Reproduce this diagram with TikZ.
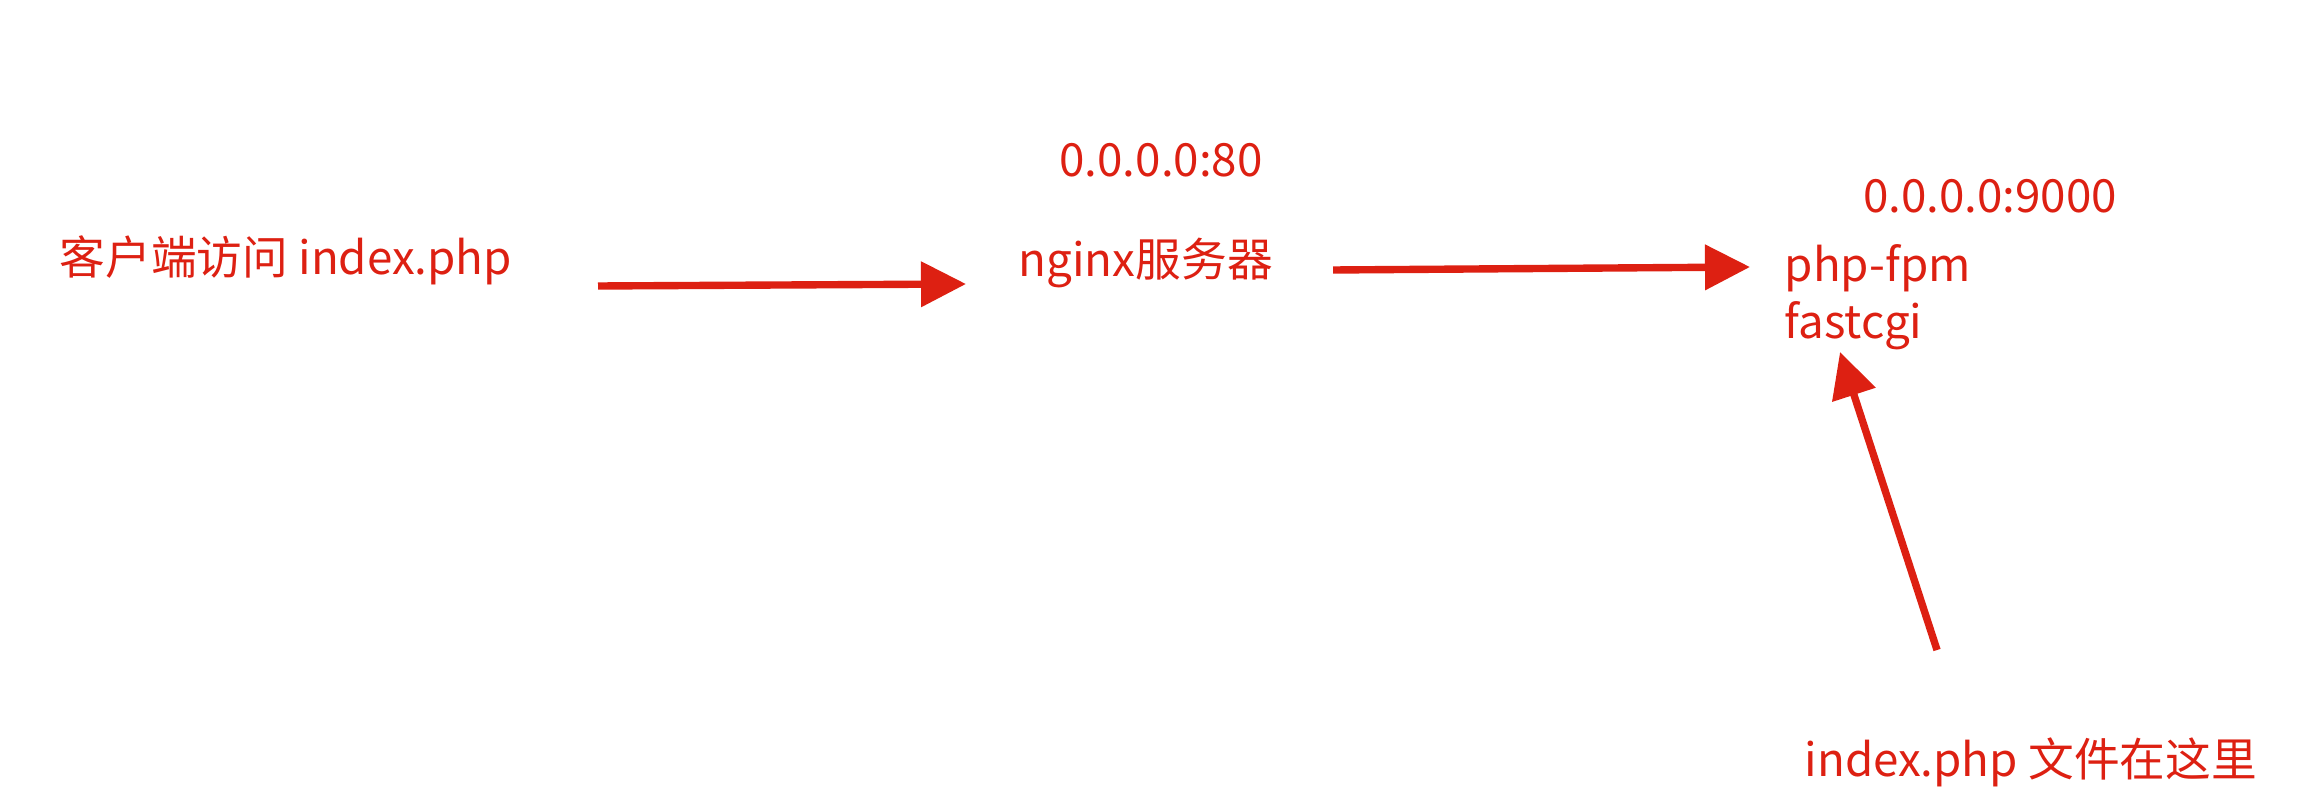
\documentclass[tikz,border=0pt]{standalone}
\usepackage{fontspec}
\setmainfont{Noto Sans CJK SC}
\usepackage{xcolor}
\usetikzlibrary{arrows.meta, positioning}
\definecolor{flowred}{RGB}{221,32,18}

\begin{document}
\begin{tikzpicture}[x=0.01cm, y=-0.01cm,
            label/.style={text=flowred, font=\fontsize{13}{17}\selectfont, inner sep=0pt},
            flow/.style={draw=flowred, line width=2.1pt, -{Triangle[length=0.45cm, width=0.44cm]}}
        ]
        \useasboundingbox (0,0) rectangle (2304,810);

        % Texts (manual layout to match figure)
        \node[label, anchor=west] (client) at (59,260) {客户端访问 index.php};
        \node[label] (port80) at (1161,160) {0.0.0.0:80};
        \node[label, anchor=west] (nginx) at (1018,263) {nginx服务器};
        \node[label] (port9000) at (1990,196) {0.0.0.0:9000};
        \node[label, anchor=west] (fpm) at (1784,268) {php-fpm};
        \node[label, anchor=west] (cgi) at (1784,326) {fastcgi};
        \node[label, anchor=west] (file) at (1804,762) {index.php 文件在这里};

        % Arrow ends
        \coordinate (a1) at (598,286);
        \coordinate (b1) at (966,284);
        \coordinate (a2) at (1333,270);
        \coordinate (b2) at (1750,267);
        \coordinate (a3) at (1937,650);
        \coordinate (b3) at (1840,352);

        % Arrows
        \draw[flow] (a1) -- (b1);
        \draw[flow] (a2) -- (b2);
        \draw[flow] (a3) -- (b3);

    \end{tikzpicture}
\end{document}
